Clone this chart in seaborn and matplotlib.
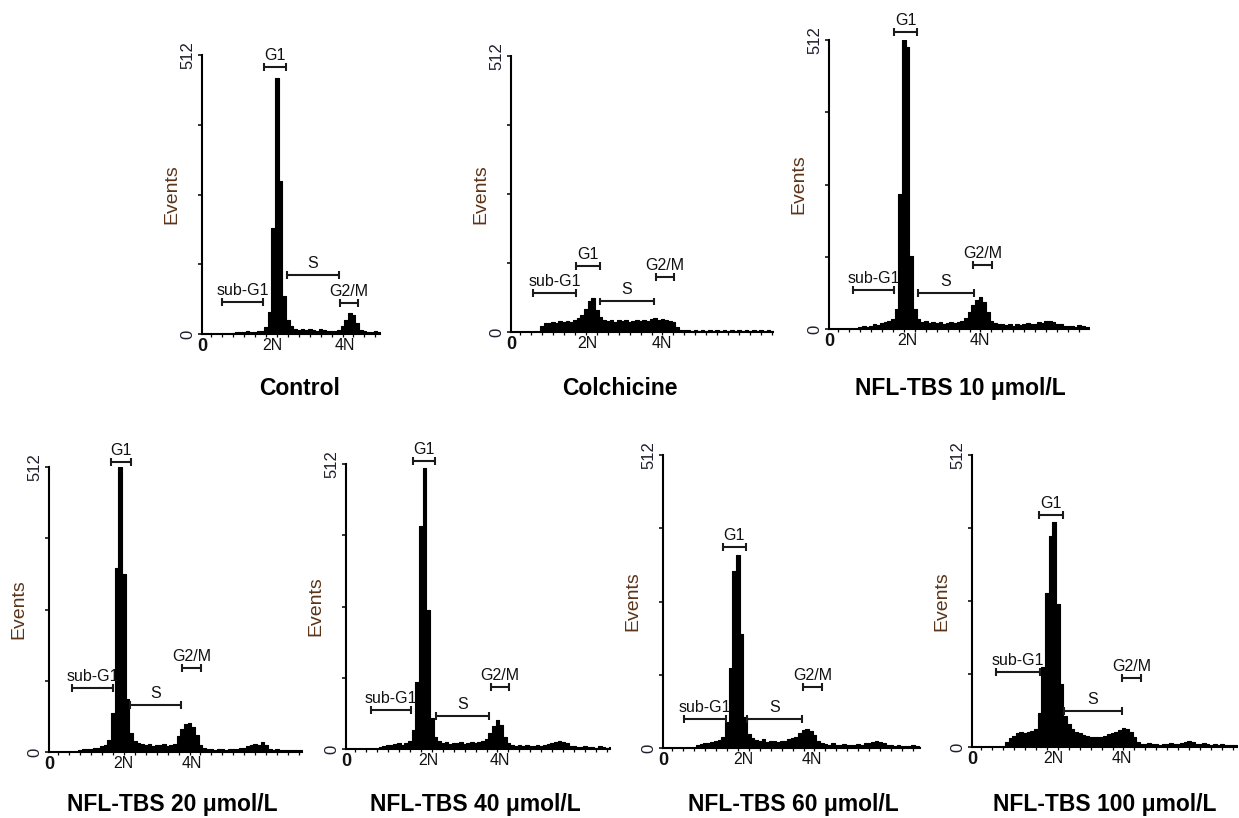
import numpy as np
import pandas as pd
import matplotlib
matplotlib.use("Agg")
from matplotlib import pyplot as plt
import seaborn as sb

# ---- data (bins of 0.1 DNA-content units, starting at 0) ----
BIN = 0.1

titles = ["Control", "Colchicine", "NFL-TBS 10 \u03bcmol/L", "NFL-TBS 20 \u03bcmol/L",
          "NFL-TBS 40 \u03bcmol/L", "NFL-TBS 60 \u03bcmol/L", "NFL-TBS 100 \u03bcmol/L"]

counts_control = [0, 0, 0, 0, 0, 0, 0, 0,
                  2, 3, 4, 3, 5, 4, 3, 5, 6, 12, 40, 195, 470, 280, 70, 25, 14, 10,
                  8, 9, 7, 10, 8, 6, 9, 7, 5, 6, 5, 7, 14, 25, 38, 34, 20, 8, 5, 4, 3, 5, 3]

counts_colchicine = [0, 0, 0, 0, 0, 0, 0, 0,
                     12, 17, 16, 19, 17, 20, 18, 21, 19, 22, 26, 31, 42, 58, 64, 40, 27, 22,
                     20, 22, 19, 23, 20, 22, 19, 21, 23, 20, 22, 21, 24, 26, 23, 25, 22, 20,
                     18, 10, 4, 3, 4, 2, 3, 2, 3, 2, 4, 2, 3, 2, 3, 2, 3, 2, 3, 2, 4, 2, 3,
                     2, 3, 2, 3, 2]

counts_10 = [0, 0, 0, 0, 0, 0, 0, 0,
             3, 5, 4, 6, 8, 7, 10, 12, 14, 18, 35, 240, 512, 500, 130, 35, 18, 12,
             14, 11, 13, 10, 12, 9, 11, 13, 10, 12, 15, 20, 30, 42, 52, 56, 48, 30, 15,
             10, 8, 9, 7, 8, 6, 9, 7, 8, 10, 8, 9, 12, 11, 14, 15, 12, 9, 8, 6, 5, 6,
             4, 7, 5, 3, 4]

counts_20 = [0, 0, 0, 0, 0, 0, 0, 0,
             3, 5, 6, 5, 7, 8, 10, 12, 22, 70, 330, 512, 320, 95, 35, 20, 16, 14,
             12, 14, 11, 13, 12, 14, 11, 13, 15, 28, 42, 50, 52, 45, 30, 12, 7, 6, 5,
             4, 6, 5, 4, 5, 6, 5, 7, 8, 10, 12, 14, 13, 18, 12, 6, 4, 5, 3, 4, 3, 4,
             3, 4, 3]

counts_40 = [0, 0, 0, 0, 0, 0, 0, 0, 0,
             4, 6, 8, 7, 9, 10, 8, 11, 14, 35, 120, 400, 505, 250, 55, 22, 14,
             10, 12, 9, 11, 10, 12, 9, 11, 13, 10, 12, 14, 18, 28, 42, 52, 44, 22, 10,
             7, 6, 8, 5, 7, 6, 5, 7, 6, 8, 9, 11, 12, 14, 13, 10, 6, 5, 4, 3, 5, 3, 4,
             2, 5, 3, 2, 3]

counts_60 = [0, 0, 0, 0, 0, 0, 0, 0, 0,
             5, 7, 9, 8, 10, 12, 14, 20, 45, 140, 310, 337, 200, 55, 25, 18, 14,
             12, 15, 11, 13, 12, 10, 13, 12, 15, 17, 20, 26, 32, 33, 30, 22, 12, 8, 7,
             6, 8, 6, 5, 7, 6, 5, 6, 7, 6, 8, 9, 10, 12, 11, 9, 6, 5, 4, 5, 3, 4, 3,
             5, 3, 2]

counts_100 = [0, 0, 0, 0, 0, 0, 0, 0, 0,
              8, 15, 20, 24, 26, 25, 27, 28, 32, 60, 140, 270, 370, 395, 250, 110, 55,
              40, 32, 27, 24, 21, 20, 18, 17, 18, 17, 19, 22, 24, 27, 30, 33, 31, 27,
              18, 8, 6, 5, 7, 5, 6, 4, 6, 5, 7, 6, 5, 7, 9, 10, 8, 6, 5, 7, 5, 4, 6, 4,
              5, 3, 4, 3, 4]

all_counts = [counts_control, counts_colchicine, counts_10, counts_20,
              counts_40, counts_60, counts_100]

# positions of the 2N / 4N labels
tick_2n = [1.92, 2.08, 2.14, 2.03, 2.25, 2.19, 2.22]
tick_4n = [3.92, 4.14, 4.14, 3.92, 4.22, 4.08, 4.11]

gate_names = ["sub-G1", "G1", "S", "G2/M"]
# (start, end, height in events) for sub-G1, G1, S, G2/M
gates = [
    [(0.55, 1.67, 59), (1.70, 2.30, 490), (2.33, 3.75, 108), (3.78, 4.27, 57)],
    [(0.60, 1.78, 72), (1.78, 2.44, 122), (2.44, 3.92, 57), (3.97, 4.47, 102)],
    [(0.66, 1.78, 69), (1.78, 2.41, 526), (2.44, 3.97, 64), (3.95, 4.47, 113)],
    [(0.63, 1.75, 115), (1.70, 2.25, 521), (2.22, 3.62, 84), (3.64, 4.16, 151)],
    [(0.68, 1.78, 70), (1.84, 2.44, 517), (2.47, 3.92, 59), (3.97, 4.47, 111)],
    [(0.58, 1.73, 51), (1.64, 2.27, 351), (2.30, 3.81, 51), (3.84, 4.36, 107)],
    [(0.66, 1.86, 132), (1.84, 2.49, 407), (2.52, 4.11, 63), (4.11, 4.63, 121)],
]

# ---- layout (pixels on a 1239x818 canvas) ----
W, H = 1239, 818
PPU = 36.5  # pixels per x unit
# x of y-axis, y of zero line, y of 512 line, right end of x-axis
panel_px = [(202, 334, 55, 380), (511, 332, 56, 773), (829, 329, 40, 1089),
            (49, 752, 467, 302), (346, 749, 464, 610), (663, 748, 455, 920),
            (972, 747, 455, 1237)]
title_px = [(300, 388), (620, 388), (960, 388), (172, 804), (475, 804),
            (793, 804), (1105, 804)]


def draw_panel(ax, counts, t2, t4, panel_gates, xmax):
    n = len(counts)
    df = pd.DataFrame({"x": (np.arange(n) + 0.5) * BIN, "events": counts})
    sb.histplot(data=df, x="x", weights="events", bins=n, binrange=(0, n * BIN),
                element="step", fill=True, color="black", alpha=1, linewidth=0.8, ax=ax)
    ax.set_xlim(0, xmax)
    ax.set_ylim(0, 512)
    ax.set_xlabel("")
    ax.set_ylabel("Events", fontsize=14, color="#5b3419", labelpad=0)

    ax.set_yticks([0, 128, 256, 384, 512])
    ax.set_yticklabels(["0", "", "", "", "512"], rotation=90, va="center",
                       fontsize=12, color="#1e1e2e")
    ax.tick_params(axis="y", length=3, width=1.1, direction="out", pad=2,
                   color="black")

    ax.set_xticks([0, t2, t4])
    ax.set_xticklabels(["0", "2N", "4N"], fontsize=11.5, color="#111111")
    zero = ax.get_xticklabels()[0]
    zero.set_fontweight("bold")
    zero.set_fontsize(13)
    ax.set_xticks(np.arange(0.25, xmax, 0.3), minor=True)
    ax.tick_params(axis="x", which="major", length=0, pad=3)
    ax.tick_params(axis="x", which="minor", length=1.8, width=0.9, direction="out",
                   color="black")

    for sp in ["left", "bottom"]:
        ax.spines[sp].set_linewidth(1.5)
        ax.spines[sp].set_color("black")
    sb.despine(ax=ax)

    cap = 7
    for name, (a, b, y) in zip(gate_names, panel_gates):
        ax.hlines(y, a, b, color="#1a1a1a", lw=1.5, clip_on=False)
        ax.vlines([a, b], y - cap, y + cap, color="#1a1a1a", lw=1.5, clip_on=False)
        ax.annotate(name, xy=((a + b) / 2, y), xytext=(0, 3),
                    textcoords="offset points", ha="center", va="bottom",
                    fontsize=11.5, color="#111111", annotation_clip=False)


def main():
    sb.set_style("ticks")
    plt.rcParams["font.family"] = ["Liberation Sans", "DejaVu Sans"]

    fig = plt.figure(figsize=(W / 100, H / 100), dpi=100)
    for i, counts in enumerate(all_counts):
        x0, yz, yt, xr = panel_px[i]
        rect = [x0 / W, 1 - yz / H, (xr - x0) / W, (yz - yt) / H]
        ax = fig.add_axes(rect)
        ax.patch.set_alpha(0)
        draw_panel(ax, counts, tick_2n[i], tick_4n[i], gates[i], (xr - x0) / PPU)
        cx, cy = title_px[i]
        fig.text(cx / W, 1 - cy / H, titles[i], ha="center", va="center",
                 fontsize=16.5, fontweight="bold", color="black")

    fig.savefig("out.png", dpi=100, facecolor="white")


if __name__ == "__main__":
    main()
